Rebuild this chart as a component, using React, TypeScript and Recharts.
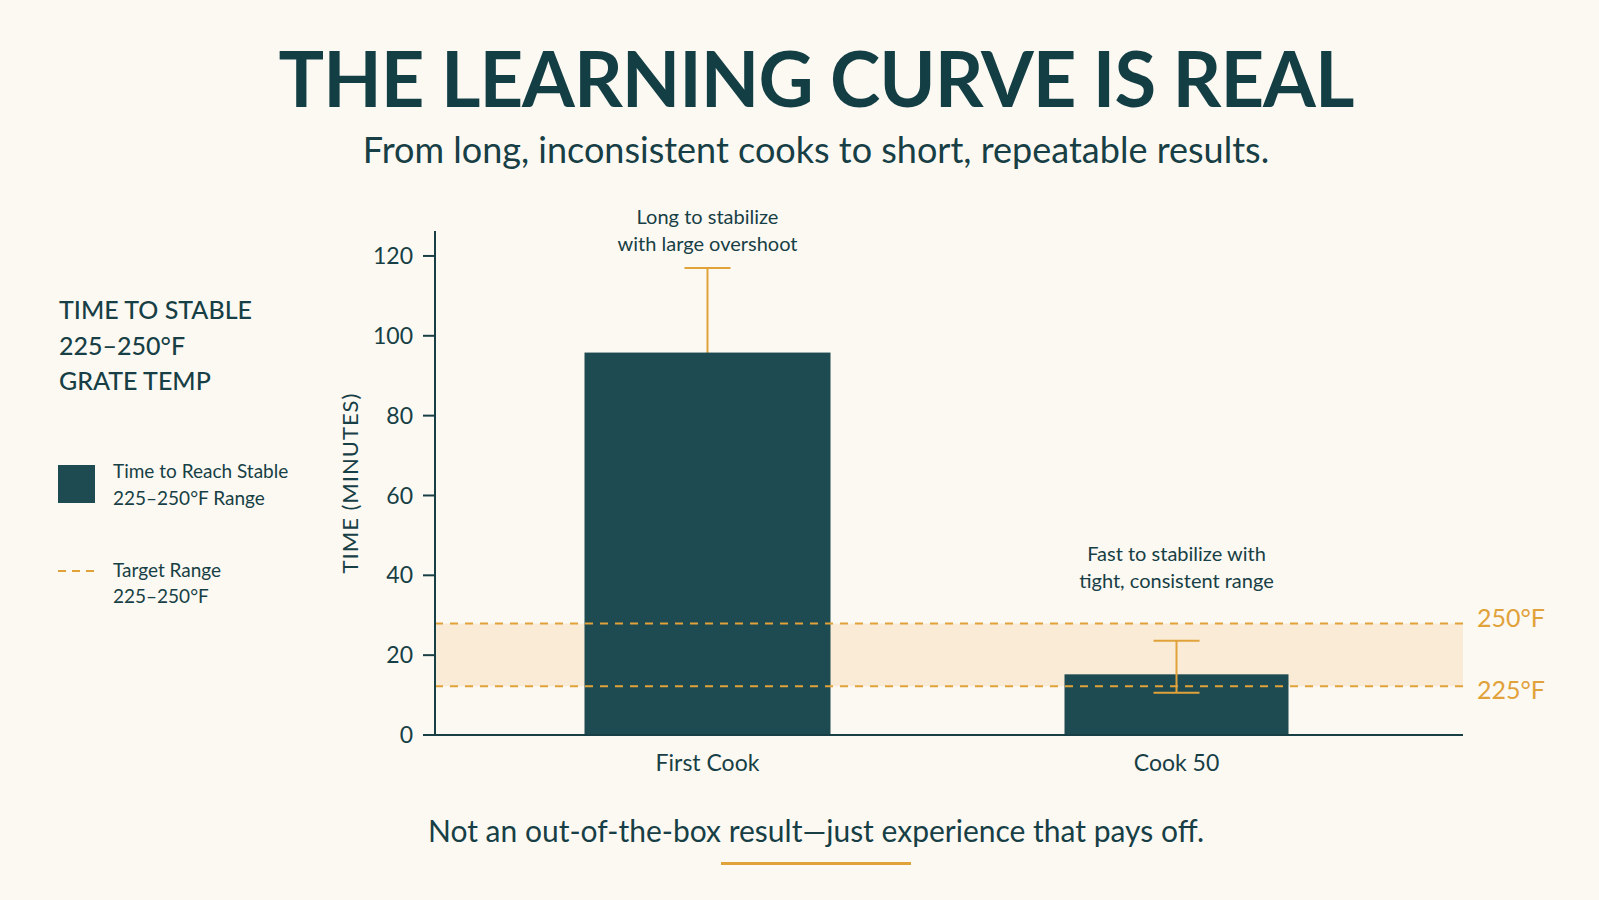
import React from 'react'
import {
  BarChart,
  Bar,
  XAxis,
  YAxis,
  ErrorBar,
  ReferenceArea,
  ReferenceLine,
  ReferenceDot,
  Label,
} from 'recharts'

// values
const categories = ['First Cook', 'Cook 50']
const minutes = [95.8, 15.2]
const errLow = [21.2, 4.6]
const errHigh = [21.2, 8.4]
// first cook's whisker sits behind its bar, cook 50's is drawn on top
const whiskerBehind = [true, false]
const yTicks = [0, 20, 40, 60, 80, 100, 120]
const targetLow = 12.2
const targetHigh = 27.9
const targetLabels = ['225°F', '250°F']
const notes = [
  ['Long to stabilize', 'with large overshoot'],
  ['Fast to stabilize with', 'tight, consistent range'],
]
const noteY = [126.4, 42.1]

const BG = '#fcf9f3'
const DARK = '#173f45'
const BAR = '#1e4b51'
const ORANGE = '#e1a23a'
const FONT = 'Lato, "Open Sans", sans-serif'
const BAR_WIDTHS = [246, 224]

const W = 1599
const H = 900
const MARGIN = { top: 231, right: 136, bottom: 115, left: 335 }
const Y_AXIS_W = 100
const PLOT_LEFT = MARGIN.left + Y_AXIS_W
const PLOT_W = W - MARGIN.right - PLOT_LEFT

const data = categories.map((name, i) => ({
  name,
  minutes: minutes[i],
  errBack: whiskerBehind[i] ? [errLow[i], errHigh[i]] : null,
  errFront: whiskerBehind[i] ? null : [errLow[i], errHigh[i]],
}))

function makeBar(fill: string) {
  return (props: any) => {
    const w = BAR_WIDTHS[props.index] ?? props.width
    const cx = props.x + props.width / 2
    return <rect x={cx - w / 2} y={props.y} width={w} height={props.height} fill={fill} />
  }
}

function Band(props: any) {
  return <rect x={PLOT_LEFT} y={props.y} width={PLOT_W} height={props.height} fill="#f8e9d0" fillOpacity={0.85} />
}

function NoteLabel({ lines }: { lines: string[] }) {
  return (props: any) => {
    const vb = props.viewBox || {}
    const cx = vb.x + (vb.width || 0) / 2
    const cy = vb.y + (vb.height || 0) / 2
    return (
      <text textAnchor="middle" fontFamily={FONT} fontSize={20} fill={DARK}>
        <tspan x={cx} y={cy - 6}>{lines[0]}</tspan>
        <tspan x={cx} y={cy + 21}>{lines[1]}</tspan>
      </text>
    )
  }
}

function YTitle(props: any) {
  const vb = props.viewBox || {}
  const x = vb.x + 14
  const y = vb.y + vb.height / 2
  return (
    <text
      x={x}
      y={y}
      transform={`rotate(-90 ${x} ${y})`}
      textAnchor="middle"
      dominantBaseline="central"
      fontFamily={FONT}
      fontSize={22}
      letterSpacing={1}
      fill={DARK}
    >
      TIME (MINUTES)
    </text>
  )
}

export default function App() {
  return (
    <div
      style={{
        position: 'absolute',
        left: 0,
        top: 0,
        width: W,
        height: H,
        background: BG,
        fontFamily: FONT,
      }}
    >
      <BarChart width={W} height={H} data={data} margin={MARGIN} barGap={-235}>
        <ReferenceArea y1={targetLow} y2={targetHigh} shape={Band} />
        <XAxis
          dataKey="name"
          height={50}
          padding={{ left: 38, right: 52 }}
          axisLine={{ stroke: DARK, strokeWidth: 2 }}
          tickLine={false}
          tickMargin={14}
          tick={{ fill: DARK, fontSize: 23, fontFamily: FONT }}
        />
        <YAxis
          width={Y_AXIS_W}
          domain={[0, 126.25]}
          ticks={yTicks}
          interval={0}
          axisLine={{ stroke: DARK, strokeWidth: 2 }}
          tickLine={{ stroke: DARK, strokeWidth: 2 }}
          tickSize={12}
          tickMargin={10}
          tick={{ fill: DARK, fontSize: 23, fontFamily: FONT }}
        >
          <Label content={YTitle} />
        </YAxis>
        <Bar dataKey="minutes" barSize={235} shape={makeBar('none')} isAnimationActive={false}>
          <ErrorBar dataKey="errBack" direction="y" width={23} stroke={ORANGE} strokeWidth={2} zIndex={250} />
        </Bar>
        <Bar dataKey="minutes" barSize={235} shape={makeBar(BAR)} isAnimationActive={false}>
          <ErrorBar dataKey="errFront" direction="y" width={23} stroke={ORANGE} strokeWidth={2} />
        </Bar>
        <ReferenceLine
          y={targetHigh}
          stroke={ORANGE}
          strokeWidth={2}
          strokeDasharray="8 7"
          label={{ value: targetLabels[1], position: 'right', offset: 14, dy: -5, fill: ORANGE, fontSize: 25, fontFamily: FONT }}
        />
        <ReferenceLine
          y={targetLow}
          stroke={ORANGE}
          strokeWidth={2}
          strokeDasharray="8 7"
          label={{ value: targetLabels[0], position: 'right', offset: 14, dy: 4, fill: ORANGE, fontSize: 25, fontFamily: FONT }}
        />
        {categories.map((c, i) => (
          <ReferenceDot
            key={c}
            x={c}
            y={noteY[i]}
            r={1}
            fill="none"
            stroke="none"
            ifOverflow="visible"
            label={{ content: NoteLabel({ lines: notes[i] }) }}
          />
        ))}
      </BarChart>

      <svg
        width={W}
        height={H}
        style={{ position: 'absolute', left: 0, top: 0, pointerEvents: 'none' }}
        fontFamily={FONT}
      >
        <text x={816} y={107} textAnchor="middle" fontSize={76} fontWeight={700} letterSpacing={-1} fill="#123e44">
          THE LEARNING CURVE IS REAL
        </text>
        <text x={816} y={163} textAnchor="middle" fontSize={36} fill={DARK}>
          From long, inconsistent cooks to short, repeatable results.
        </text>

        <g fill={DARK} fontSize={25} fontWeight={500}>
          <text x={59} y={319}>TIME TO STABLE</text>
          <text x={59} y={355}>225–250°F</text>
          <text x={59} y={390}>GRATE TEMP</text>
        </g>

        <rect x={58} y={465} width={37} height={38} fill={BAR} />
        <g fill={DARK} fontSize={19}>
          <text x={113} y={478}>Time to Reach Stable</text>
          <text x={113} y={505}>225–250°F Range</text>
        </g>
        <line x1={58} x2={95} y1={571} y2={571} stroke={ORANGE} strokeWidth={2} strokeDasharray="8 6" />
        <g fill={DARK} fontSize={19}>
          <text x={113} y={577}>Target Range</text>
          <text x={113} y={603}>225–250°F</text>
        </g>

        <text x={816} y={842} textAnchor="middle" fontSize={30} fill={DARK}>
          Not an out-of-the-box result—just experience that pays off.
        </text>
        <rect x={721} y={862} width={190} height={3} fill={ORANGE} />
      </svg>
    </div>
  )
}
